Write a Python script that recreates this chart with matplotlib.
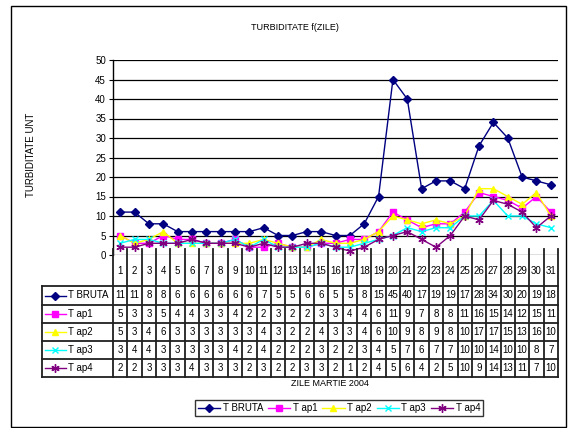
import matplotlib
matplotlib.use("Agg")
import matplotlib.pyplot as plt
from matplotlib.lines import Line2D
from matplotlib.patches import Rectangle

plt.rcParams['font.family'] = ['Liberation Sans', 'DejaVu Sans']

days = list(range(1, 32))
t_bruta = [11, 11, 8, 8, 6, 6, 6, 6, 6, 6, 7, 5, 5, 6, 6, 5, 5, 8, 15, 45, 40, 17, 19, 19, 17, 28, 34, 30, 20, 19, 18]
tap1 = [5, 3, 3, 5, 4, 4, 3, 3, 4, 2, 2, 3, 2, 2, 3, 3, 4, 4, 6, 11, 9, 7, 8, 8, 11, 16, 15, 14, 12, 15, 11]
tap2 = [5, 3, 4, 6, 3, 3, 3, 3, 3, 3, 4, 3, 2, 2, 4, 3, 3, 4, 6, 10, 9, 8, 9, 8, 10, 17, 17, 15, 13, 16, 10]
tap3 = [3, 4, 4, 3, 3, 3, 3, 3, 4, 2, 4, 2, 2, 2, 3, 2, 2, 3, 4, 5, 7, 6, 7, 7, 10, 10, 14, 10, 10, 8, 7]
tap4 = [2, 2, 3, 3, 3, 4, 3, 3, 3, 2, 3, 2, 2, 3, 3, 2, 1, 2, 4, 5, 6, 4, 2, 5, 10, 9, 14, 13, 11, 7, 10]

series_names = ["T BRUTA", "T ap1", "T ap2", "T ap3", "T ap4"]
series_data = [t_bruta, tap1, tap2, tap3, tap4]
colors = ["#000080", "#FF00FF", "#FFFF00", "#00FFFF", "#800080"]
markers = ["D", "s", "^", "x", (6, 2, 0)]
msizes = [4, 4.5, 5, 5, 6]

title = "TURBIDITATE f(ZILE)"
ylabel = "TURBIDITATE UNT"
xlabel = "ZILE MARTIE 2004"
yticks = list(range(0, 51, 5))

W, H = 570, 428
fig = plt.figure(figsize=(W / 100, H / 100), dpi=100)

def fx(px):
    return px / W

def fy(py):
    return (H - py) / H

# outer border
fig.patches.append(Rectangle((fx(11), fy(427)), fx(566) - fx(11), fy(6) - fy(427),
                             transform=fig.transFigure, fill=False, ec="black", lw=1.0))

# main plot axes
x0, x1 = 113, 558
y_top, y_bot = 60, 255
ax = fig.add_axes([fx(x0), fy(y_bot), fx(x1) - fx(x0), fy(y_top) - fy(y_bot)])
ax.set_xlim(0.5, 31.5)
ax.set_ylim(0, 50)
ax.set_yticks(yticks)
ax.tick_params(axis='y', labelsize=7, length=3, width=0.8, pad=2)
ax.set_xticks([])
for s in ["top", "right", "bottom"]:
    ax.spines[s].set_visible(False)
ax.spines["left"].set_linewidth(1.0)
ax.yaxis.grid(True, color="black", lw=0.9)
ax.set_axisbelow(True)

for name, data, c, m, ms in zip(series_names, series_data, colors, markers, msizes):
    ax.plot(days, data, color=c, marker=m, markersize=ms, lw=1.0,
            markeredgecolor=c, markerfacecolor=c, markeredgewidth=1.0, label=name, clip_on=False)

# table axes
colw = (x1 - x0) / 31.0
tx0 = 42
xmin = 0.5 - (x0 - tx0) / colw
t_top, t_bot = 255, 377
tax = fig.add_axes([fx(tx0), fy(t_bot), fx(x1) - fx(tx0), fy(t_top) - fy(t_bot)])
tax.set_xlim(xmin, 31.5)
tax.set_ylim(t_bot, t_top)
tax.axis("off")

row_edges = [286, 305, 323, 341, 359, 377]
lc = "#202020"
# vertical column lines
for k in range(32):
    xb = 0.5 + k
    tax.plot([xb, xb], [249, t_bot], color=lc, lw=1.3, clip_on=False)
# header column box
tax.plot([xmin, xmin], [row_edges[0], t_bot], color=lc, lw=1.3, clip_on=False)
for ye in row_edges:
    tax.plot([xmin, 31.5], [ye, ye], color=lc, lw=1.3, clip_on=False)

# day numbers
for d in days:
    tax.text(d, (t_top + row_edges[0]) / 2, str(d), ha="center", va="center", fontsize=7)

def px2x(px):
    return xmin + (px - tx0) / colw

for i, (name, data, c, m, ms) in enumerate(zip(series_names, series_data, colors, markers, msizes)):
    yc = (row_edges[i] + row_edges[i + 1]) / 2
    tax.plot([px2x(45), px2x(66)], [yc, yc], color=c, lw=1.0, clip_on=False)
    tax.plot([px2x(55.5)], [yc], marker=m, color=c, markersize=ms, markeredgewidth=1.0, clip_on=False)
    tax.text(px2x(68), yc, name, ha="left", va="center", fontsize=7)
    for d, v in zip(days, data):
        tax.text(d, yc, "%d" % v, ha="center", va="center", fontsize=7)

# titles and labels
fig.text(fx(295), fy(27), title, ha="center", va="center", fontsize=6.5)
fig.text(fx(31), fy(155), ylabel, ha="center", va="center", rotation=90, fontsize=7)
fig.text(fx(330), fy(384), xlabel, ha="center", va="center", fontsize=6.5)

# legend
handles = [Line2D([0], [0], color=c, marker=m, markersize=ms, lw=1.0, markeredgewidth=1.0)
           for c, m, ms in zip(colors, markers, msizes)]
leg = fig.legend(handles, series_names, loc="center", bbox_to_anchor=(fx(339), fy(408)),
                 ncol=5, fontsize=7, frameon=True, fancybox=False, handlelength=2.3,
                 handletextpad=0.25, columnspacing=0.5, borderpad=0.3, borderaxespad=0)
leg.get_frame().set_edgecolor("black")
leg.get_frame().set_linewidth(1.0)

fig.savefig("out.png", dpi=100)
